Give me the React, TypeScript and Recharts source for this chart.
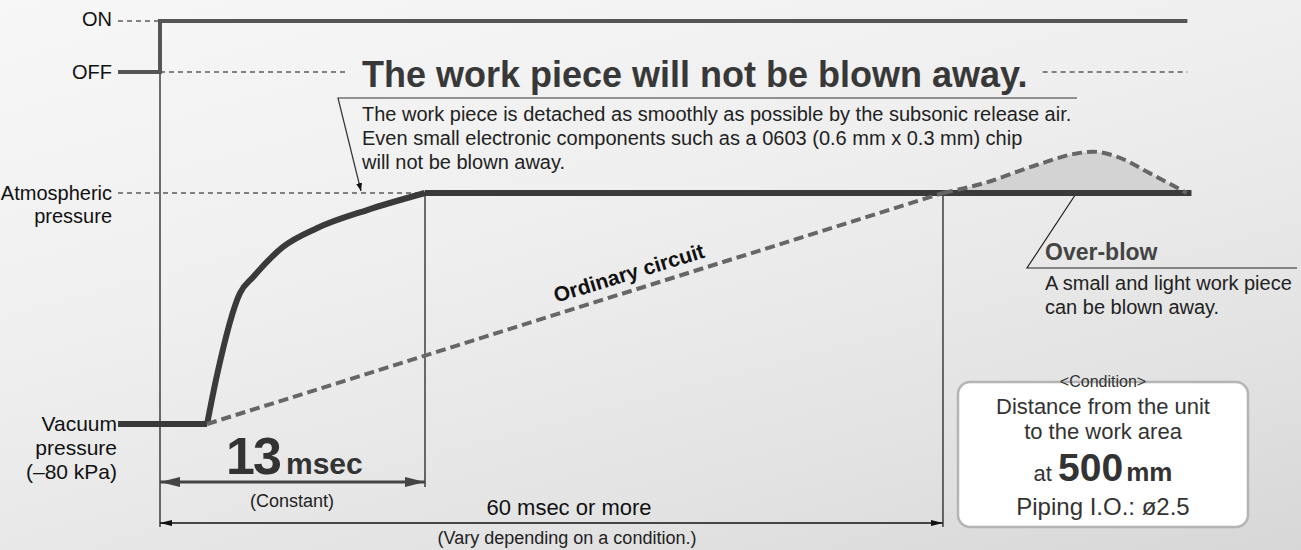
import { ComposedChart, Line, Area, XAxis, YAxis, Customized } from 'recharts';

// time: msec after the release signal, pressure: kPa (gauge), signal: 0 = OFF, 1 = ON
const switchTimes = [-2.06, 0, 0, 50.4];
const switchLevels = [0, 0, 1, 1];

const vacuumHoldTimes = [-2.06, 2.31];
const vacuumHoldPressure = [-80, -80];

const releaseTimes = [2.31, 2.78, 3.92, 4.58, 6.05, 7.69, 10.16, 13];
const releasePressure = [-80, -63.6, -34.7, -29.0, -18.6, -12.2, -5.9, 0];

const atmosphereTimes = [13, 50.6];
const atmospherePressure = [0, 0];

const ordinaryTimes = [2.31, 38.41];
const ordinaryPressure = [-80, 0];

const overBlowTimes = [38.41, 40.39, 43.0, 44.97, 45.78, 46.93, 48.57, 50.37];
const overBlowPressure = [0, 3.35, 9.7, 13.7, 14.3, 12.6, 6.8, 0];

// dashed guide lines
const onGuideTimes = [-2.06, 0];
const offGuideTimes = [0, 9.22];
const offGuideTailTimes = [43.3, 50.4];
const atmGuideTimes = [-2.06, 13];

// thin vertical markers (time, top pressure, bottom pressure)
const markerTimes = [0, 13, 38.41];
const markerTops = [41.9, 0, 0];
const markerBottoms = [-115.7, -101.8, -115.7];

// dimension arrows
const constantSpan = [0, 13];
const totalSpan = [0, 38.41];
const constantLevel = -100.1;
const totalLevel = -114.3;

// layout
const W = 1301;
const H = 550;
const X_ZERO = 160;
const PX_MS = 265 / 13;
const Y_ATM = 193;
const PX_KPA = 231 / 80;
const Y_OFF = 72;
const PX_SIG = 51;

const xDomain = [-X_ZERO / PX_MS, (W - X_ZERO) / PX_MS];
const pDomain = [-(H - Y_ATM) / PX_KPA, Y_ATM / PX_KPA];
const sigDomain = [-(H - Y_OFF) / PX_SIG, 1 + 21 / PX_SIG];

const FONT = "'Liberation Sans', Arial, Helvetica, sans-serif";

const pts = (ts: number[], vs: number[], key = 'p') => ts.map((t, i) => ({ t, [key]: vs[i] }));
const flat = (ts: number[], v: number, key = 'p') => ts.map((t) => ({ t, [key]: v }));

const Annotations = () => (
    <g fontFamily={FONT}>
        <defs>
            <marker id="headBig" viewBox="0 0 20 10" refX="20" refY="5" markerWidth="20" markerHeight="10"
                markerUnits="userSpaceOnUse" orient="auto-start-reverse">
                <path d="M0,0 L20,5 L0,10 z" fill="#444" />
            </marker>
            <marker id="headSmall" viewBox="0 0 12 6" refX="12" refY="3" markerWidth="12" markerHeight="6"
                markerUnits="userSpaceOnUse" orient="auto-start-reverse">
                <path d="M0,0 L12,3 L0,6 z" fill="#111" />
            </marker>
            <marker id="headThin" viewBox="0 0 8 6" refX="8" refY="3" markerWidth="8" markerHeight="6"
                markerUnits="userSpaceOnUse" orient="auto">
                <path d="M0,0 L8,3 L0,6 z" fill="#111" />
            </marker>
        </defs>

        <g fontSize={20} fill="#111" textAnchor="end">
            <text x={112} y={26}>ON</text>
            <text x={112} y={79}>OFF</text>
            <text x={112} y={200}>Atmospheric</text>
            <text x={112} y={223}>pressure</text>
        </g>
        <g fontSize={21} fill="#111" textAnchor="end">
            <text x={117} y={431}>Vacuum</text>
            <text x={117} y={455}>pressure</text>
            <text x={117} y={479}>(–80 kPa)</text>
        </g>

        <text x={362} y={87} fontSize={36} fontWeight="bold" fill="#383838">
            The work piece will not be blown away.
        </text>
        <polyline points="1077,98 338,98 361,191" fill="none" stroke="#333" strokeWidth={1.2}
            markerEnd="url(#headThin)" />
        <g fontSize={20} fill="#222">
            <text x={362} y={121}>The work piece is detached as smoothly as possible by the subsonic release air.</text>
            <text x={362} y={145}>Even small electronic components such as a 0603 (0.6 mm x 0.3 mm) chip</text>
            <text x={362} y={169}>will not be blown away.</text>
        </g>

        <text transform="translate(631,280) rotate(-17)" textAnchor="middle" fontSize={21} fontWeight="bold" fill="#111">
            Ordinary circuit
        </text>

        <text x={226} y={474} fontSize={52} fontWeight="bold" fill="#333" letterSpacing={-2}>13</text>
        <text x={286} y={474} fontSize={30} fontWeight="bold" fill="#333">msec</text>
        <text x={292} y={507} fontSize={18} fill="#222" textAnchor="middle">(Constant)</text>
        <text x={569} y={515} fontSize={22} fill="#111" textAnchor="middle">60 msec or more</text>
        <text x={567} y={544} fontSize={18} fill="#222" textAnchor="middle">(Vary depending on a condition.)</text>

        <polyline points="1087,177 1027,268 1297,268" fill="none" stroke="#222" strokeWidth={1.2} />
        <circle cx={1087} cy={177} r={2.5} fill="#111" />
        <text x={1045} y={260} fontSize={23} fontWeight="bold" fill="#444">Over-blow</text>
        <text x={1045} y={290} fontSize={20} fill="#222">A small and light work piece</text>
        <text x={1045} y={314} fontSize={20} fill="#222">can be blown away.</text>

        <rect x={958} y={382} width={290} height={145} rx={12} fill="#fff" stroke="#b4b4b4" strokeWidth={2.5} />
        <g textAnchor="middle" fill="#333">
            <text x={1103} y={387} fontSize={16}>&lt;Condition&gt;</text>
            <text x={1103} y={414} fontSize={22}>Distance from the unit</text>
            <text x={1103} y={439} fontSize={22}>to the work area</text>
            <text x={1103} y={481} fontSize={22}>
                at <tspan fontSize={39} fontWeight="bold">500</tspan>
                <tspan fontSize={26} fontWeight="bold" dx={3}>mm</tspan>
            </text>
            <text x={1103} y={515} fontSize={24}>Piping I.O.: ø2.5</text>
        </g>
    </g>
);

export default function App() {
    const guide = { stroke: '#111', strokeWidth: 1.2, strokeDasharray: '5 4', dot: false, activeDot: false, isAnimationActive: false };

    return (
        <div
            style={{
                position: 'absolute',
                left: 0,
                top: 0,
                width: W,
                height: H,
                background: 'linear-gradient(165deg, #f7f7f7 0%, #efefef 40%, #e3e3e3 75%, #d7d7d7 100%)'
            }}
        >
            <ComposedChart width={W} height={H} margin={{ top: 0, right: 0, bottom: 0, left: 0 }}>
                <XAxis type="number" dataKey="t" domain={xDomain} allowDataOverflow hide />
                <YAxis yAxisId="p" type="number" domain={pDomain} allowDataOverflow hide />
                <YAxis yAxisId="sig" type="number" domain={sigDomain} allowDataOverflow hide />

                {/* guides */}
                <Line yAxisId="sig" data={flat(onGuideTimes, 1, 'v')} dataKey="v" type="linear" {...guide} />
                <Line yAxisId="sig" data={flat(offGuideTimes, 0, 'v')} dataKey="v" type="linear" {...guide} />
                <Line yAxisId="sig" data={flat(offGuideTailTimes, 0, 'v')} dataKey="v" type="linear" {...guide} />
                <Line yAxisId="p" data={flat(atmGuideTimes, 0)} dataKey="p" type="linear" {...guide} />

                {/* thin vertical markers */}
                {markerTimes.map((t, i) => (
                    <Line key={`m${i}`} yAxisId="p" data={[{ t, p: markerTops[i] }, { t, p: markerBottoms[i] }]}
                        dataKey="p" type="linear" stroke="#111" strokeWidth={1.2} dot={false} activeDot={false}
                        isAnimationActive={false} />
                ))}

                {/* dimension arrows */}
                <Line yAxisId="p" data={flat(constantSpan, constantLevel)} dataKey="p" type="linear"
                    stroke="#444" strokeWidth={3} dot={false} activeDot={false} isAnimationActive={false}
                    markerStart="url(#headBig)" markerEnd="url(#headBig)" />
                <Line yAxisId="p" data={flat(totalSpan, totalLevel)} dataKey="p" type="linear"
                    stroke="#111" strokeWidth={1.5} dot={false} activeDot={false} isAnimationActive={false}
                    markerStart="url(#headSmall)" markerEnd="url(#headSmall)" />

                {/* over-blow of the ordinary circuit */}
                <Area yAxisId="p" data={pts(overBlowTimes, overBlowPressure)} dataKey="p" type="monotone"
                    baseValue={0} fill="#d3d3d3" fillOpacity={1} stroke="none" isAnimationActive={false}
                    activeDot={false} />

                {/* subsonic release */}
                <Line yAxisId="p" data={pts(atmosphereTimes, atmospherePressure)} dataKey="p" type="linear"
                    stroke="#3a3a3a" strokeWidth={6} dot={false} activeDot={false} isAnimationActive={false} />
                <Line yAxisId="p" data={pts(vacuumHoldTimes, vacuumHoldPressure)} dataKey="p" type="linear"
                    stroke="#3a3a3a" strokeWidth={6} dot={false} activeDot={false} isAnimationActive={false} />
                <Line yAxisId="p" data={pts(releaseTimes, releasePressure)} dataKey="p" type="monotone"
                    stroke="#3a3a3a" strokeWidth={6} dot={false} activeDot={false} isAnimationActive={false} />

                {/* ordinary circuit */}
                <Line yAxisId="p" data={pts(ordinaryTimes, ordinaryPressure)} dataKey="p" type="linear"
                    stroke="#666" strokeWidth={4} strokeDasharray="10 5" dot={false} activeDot={false}
                    isAnimationActive={false} />
                <Line yAxisId="p" data={pts(overBlowTimes, overBlowPressure)} dataKey="p" type="monotone"
                    stroke="#666" strokeWidth={4} strokeDasharray="10 5" dot={false} activeDot={false}
                    isAnimationActive={false} />

                {/* release signal */}
                <Line yAxisId="sig" data={pts(switchTimes, switchLevels, 'v')} dataKey="v" type="linear"
                    stroke="#555" strokeWidth={4} dot={false} activeDot={false} isAnimationActive={false} />

                <Customized component={Annotations} />
            </ComposedChart>
        </div>
    );
}
